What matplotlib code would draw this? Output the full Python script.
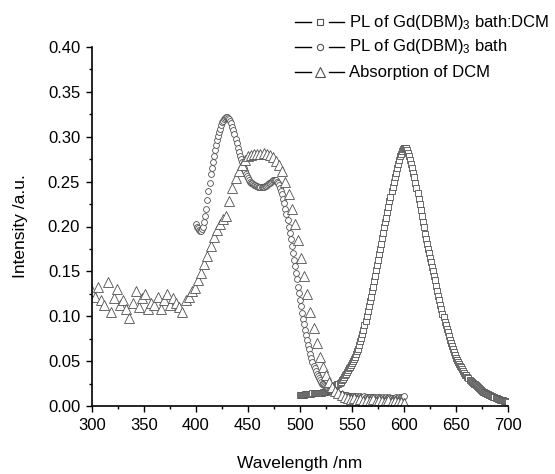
import numpy as np
import matplotlib
matplotlib.use('Agg')
import matplotlib.pyplot as plt
from matplotlib.lines import Line2D

plt.rcParams['font.family'] = ['Liberation Sans', 'DejaVu Sans']
plt.rcParams['mathtext.fontset'] = 'custom'
plt.rcParams['mathtext.rm'] = 'Liberation Sans'
plt.rcParams['mathtext.it'] = 'Liberation Sans'

# PL of Gd(DBM)3bath:DCM (squares), 500-700 nm, 1 nm steps
wl_mix = np.arange(500, 701, 1)
pl_mix = [0.012, 0.012, 0.012, 0.012, 0.012, 0.013, 0.013, 0.013, 0.013, 0.013,
          0.013, 0.013, 0.014, 0.014, 0.014, 0.014, 0.014, 0.014, 0.015, 0.015,
          0.015, 0.015, 0.016, 0.016, 0.016, 0.016, 0.017, 0.017, 0.018, 0.018,
          0.019, 0.019, 0.020, 0.021, 0.022, 0.023, 0.024, 0.025, 0.026, 0.027,
          0.029, 0.030, 0.032, 0.034, 0.036, 0.038, 0.040, 0.042, 0.044, 0.046,
          0.048, 0.050, 0.052, 0.055, 0.058, 0.061, 0.064, 0.068, 0.072, 0.076,
          0.080, 0.085, 0.090, 0.095, 0.100, 0.106, 0.111, 0.117, 0.122, 0.128,
          0.133, 0.139, 0.145, 0.151, 0.157, 0.163, 0.169, 0.175, 0.181, 0.187,
          0.193, 0.199, 0.205, 0.210, 0.216, 0.222, 0.228, 0.233, 0.239, 0.244,
          0.250, 0.255, 0.260, 0.265, 0.270, 0.274, 0.278, 0.281, 0.284, 0.286,
          0.288, 0.288, 0.287, 0.285, 0.282, 0.278, 0.274, 0.270, 0.265, 0.260,
          0.255, 0.249, 0.243, 0.237, 0.231, 0.225, 0.218, 0.212, 0.205, 0.199,
          0.192, 0.186, 0.180, 0.175, 0.170, 0.165, 0.160, 0.155, 0.150, 0.145,
          0.140, 0.134, 0.128, 0.123, 0.118, 0.113, 0.108, 0.103, 0.099, 0.094,
          0.090, 0.086, 0.082, 0.078, 0.074, 0.070, 0.067, 0.063, 0.060, 0.057,
          0.054, 0.051, 0.049, 0.047, 0.045, 0.043, 0.041, 0.039, 0.037, 0.035,
          0.034, 0.032, 0.031, 0.029, 0.028, 0.027, 0.026, 0.025, 0.024, 0.023,
          0.022, 0.021, 0.020, 0.019, 0.018, 0.017, 0.016, 0.016, 0.015, 0.014,
          0.013, 0.013, 0.012, 0.012, 0.011, 0.011, 0.010, 0.010, 0.009, 0.009,
          0.008, 0.008, 0.007, 0.007, 0.007, 0.007, 0.006, 0.006, 0.006, 0.006,
          0.005]

# PL of Gd(DBM)3bath (circles), 400-600 nm, 1 nm steps
wl_bath = np.arange(400, 601, 1)
pl_bath = [0.203, 0.200, 0.198, 0.196, 0.195, 0.195, 0.197, 0.200, 0.205, 0.212,
           0.220, 0.230, 0.240, 0.249, 0.258, 0.265, 0.272, 0.279, 0.285, 0.291,
           0.296, 0.301, 0.305, 0.309, 0.313, 0.316, 0.318, 0.320, 0.321, 0.322,
           0.322, 0.321, 0.320, 0.318, 0.315, 0.311, 0.307, 0.303, 0.298, 0.293,
           0.288, 0.283, 0.279, 0.275, 0.272, 0.268, 0.265, 0.262, 0.259, 0.256,
           0.254, 0.252, 0.250, 0.249, 0.248, 0.247, 0.246, 0.246, 0.245, 0.245,
           0.244, 0.244, 0.244, 0.244, 0.244, 0.244, 0.245, 0.245, 0.246, 0.247,
           0.248, 0.249, 0.250, 0.251, 0.252, 0.252, 0.252, 0.252, 0.250, 0.248,
           0.246, 0.243, 0.240, 0.236, 0.231, 0.226, 0.220, 0.214, 0.207, 0.200,
           0.193, 0.186, 0.178, 0.171, 0.163, 0.156, 0.148, 0.141, 0.133, 0.126,
           0.118, 0.111, 0.104, 0.097, 0.091, 0.085, 0.079, 0.073, 0.068, 0.063,
           0.058, 0.053, 0.049, 0.045, 0.042, 0.039, 0.036, 0.033, 0.031, 0.029,
           0.027, 0.025, 0.024, 0.023, 0.022, 0.021, 0.020, 0.019, 0.018, 0.018,
           0.017, 0.016, 0.016, 0.015, 0.015, 0.014, 0.014, 0.013, 0.013, 0.013,
           0.013, 0.012, 0.012, 0.012, 0.012, 0.012, 0.011, 0.011, 0.011, 0.011,
           0.011, 0.011, 0.010, 0.011, 0.010, 0.011, 0.010, 0.010, 0.011, 0.010,
           0.010, 0.010, 0.011, 0.010, 0.010, 0.009, 0.010, 0.010, 0.009, 0.010,
           0.010, 0.009, 0.010, 0.009, 0.009, 0.010, 0.009, 0.010, 0.009, 0.009,
           0.010, 0.009, 0.009, 0.010, 0.009, 0.009, 0.010, 0.009, 0.009, 0.008,
           0.009, 0.009, 0.010, 0.009, 0.009, 0.010, 0.009, 0.010, 0.010, 0.010,
           0.011]

# Absorption of DCM (triangles), 300-600 nm, 3 nm steps
wl_abs = np.arange(300, 601, 3)
absorb = [0.128, 0.122, 0.133, 0.118, 0.112, 0.138, 0.105, 0.120, 0.130, 0.112,
          0.118, 0.108, 0.098, 0.115, 0.128, 0.110, 0.120, 0.125, 0.108, 0.115,
          0.112, 0.122, 0.108, 0.118, 0.125, 0.112, 0.120, 0.115, 0.110, 0.105,
          0.118,
          0.122, 0.128, 0.132, 0.140, 0.148, 0.158, 0.167, 0.178, 0.188, 0.196,
          0.203, 0.208, 0.212, 0.228, 0.243, 0.254, 0.262, 0.268, 0.274, 0.278,
          0.280, 0.281, 0.281, 0.281, 0.282, 0.281, 0.280, 0.277, 0.273, 0.268,
          0.262, 0.250, 0.236, 0.220, 0.203, 0.185, 0.165, 0.145, 0.125, 0.105,
          0.087, 0.070, 0.055, 0.043, 0.034, 0.027, 0.021, 0.017, 0.014, 0.012,
          0.010, 0.009, 0.008, 0.009, 0.007, 0.008, 0.006, 0.007, 0.006, 0.008,
          0.005, 0.007, 0.006, 0.005, 0.007, 0.005, 0.006, 0.004, 0.005, 0.003]

labels = ['PL of Gd(DBM)$_3$ bath:DCM', 'PL of Gd(DBM)$_3$ bath', 'Absorption of DCM']

W, H = 555, 474
fig = plt.figure(figsize=(W / 100, H / 100), dpi=100)
ax = fig.add_axes([92 / W, 1 - 406 / H, 416 / W, 359 / H])

ec = '#505050'
ax.plot(wl_mix, pl_mix, ls='none', marker='s', ms=3.8, mfc='white', mec=ec, mew=0.6)
ax.plot(wl_bath, pl_bath, ls='none', marker='o', ms=4.2, mfc='white', mec=ec, mew=0.6)
ax.plot(wl_abs, absorb, ls='none', marker='^', ms=6.5, mfc='white', mec=ec, mew=0.6)

ax.set_xlim(300, 700)
ax.set_ylim(0, 0.40)
ax.set_xticks(np.arange(300, 701, 50))
ax.set_xticks(np.arange(325, 700, 50), minor=True)
ax.set_yticks(np.arange(0, 0.401, 0.05))
ax.set_yticks(np.arange(0.025, 0.40, 0.05), minor=True)
ax.set_yticklabels(['%.2f' % v for v in np.arange(0, 0.401, 0.05)])
ax.tick_params(which='major', direction='out', length=4.5, width=1, labelsize=12, pad=4)
ax.tick_params(which='minor', direction='out', length=2.5, width=1)
for s in ['top', 'right']:
    ax.spines[s].set_visible(False)
for s in ['left', 'bottom']:
    ax.spines[s].set_linewidth(1.2)

ax.set_xlabel('Wavelength /nm', fontsize=12.5, labelpad=17)
ax.set_ylabel('Intensity /a.u.', fontsize=12.5, labelpad=14)

# legend drawn by hand, Origin style
markers = ['s', 'o', '^']
msizes = [4.2, 4.5, 7]
rows = [22, 47, 72]
for lab, mk, msz, yr in zip(labels, markers, msizes, rows):
    yf = 1 - yr / H
    fig.add_artist(Line2D([295 / W, 311 / W], [yf, yf], color='black', lw=1, transform=fig.transFigure))
    fig.add_artist(Line2D([329 / W, 344 / W], [yf, yf], color='black', lw=1, transform=fig.transFigure))
    fig.add_artist(Line2D([320 / W], [yf], ls='none', marker=mk, ms=msz, mfc='white', mec=ec, mew=0.8,
                          transform=fig.transFigure))
    fig.text(349 / W, yf, lab, fontsize=12, va='center', ha='left')

fig.savefig('out.png', dpi=100)
